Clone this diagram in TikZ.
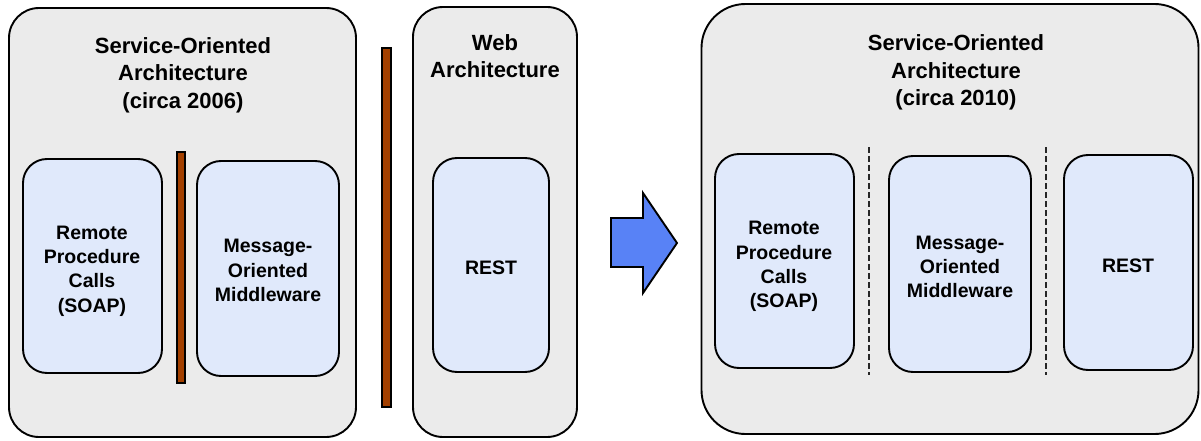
\documentclass[tikz,border=0pt]{standalone}
\usepackage{fontspec}
\setmainfont{Liberation Sans}
\definecolor{outerfill}{RGB}{235,235,235}
\definecolor{innerfill}{RGB}{224,233,251}
\definecolor{barfill}{RGB}{163,64,0}
\definecolor{arrowfill}{RGB}{88,130,246}
\tikzset{
  outerbox/.style={draw=black, line width=1.9pt, fill=outerfill, rounded corners=30pt, inner sep=0pt},
  innerbox/.style={draw=black, line width=1.9pt, fill=innerfill, rounded corners=24pt, inner sep=0pt},
  innertext/.style={align=center, inner sep=0pt, font=\fontsize{19.5}{24.3}\selectfont\bfseries},
  titletext/.style={align=center, inner sep=0pt, font=\fontsize{22}{27.5}\selectfont\bfseries},
  barbox/.style={draw=black, line width=1.4pt, fill=barfill, inner sep=0pt},
  sep/.style={draw=black!85, line width=2.2pt, dash pattern=on 6pt off 3pt},
  bigarrow/.style={draw=black, line width=1.9pt, fill=arrowfill, line join=miter}
}
\begin{document}
\begin{tikzpicture}[x=1pt,y=-1pt]
\useasboundingbox (0,0) rectangle (1201,441);
% left SOA box
\node[outerbox, minimum width=347pt, minimum height=429pt] (soa1) at (182.5,222.5) {};
\node[titletext] (soa1t) at (183,75) {Service-Oriented\\Architecture\\(circa 2006)};
\node[innerbox, minimum width=139pt, minimum height=214pt] (rpc1) at (92.5,266) {};
\node[innertext] (rpc1t) at (92,271) {Remote\\Procedure\\Calls\\(SOAP)};
\node[innerbox, minimum width=142pt, minimum height=215pt] (mom1) at (268,268.5) {};
\node[innertext] (mom1t) at (268,270.5) {Message-\\Oriented\\Middleware};
\node[barbox, minimum width=8pt, minimum height=231pt] (bar1) at (181,267.5) {};
% separator bar
\node[barbox, minimum width=9pt, minimum height=359pt] (bar2) at (386.5,227.5) {};
% web box
\node[outerbox, minimum width=164pt, minimum height=430pt] (web) at (495,222) {};
\node[titletext] (webt) at (495,56) {Web\\Architecture};
\node[innerbox, minimum width=116pt, minimum height=214pt] (rest1) at (491,265) {};
\node[innertext] (rest1t) at (491,268) {REST};
% arrow
\draw[bigarrow] (611,218) -- (643,218) -- (643,193) -- (677,243) -- (643,293) -- (643,267) -- (611,267) -- cycle;
% right SOA box
\node[outerbox, rounded corners=44pt, minimum width=497pt, minimum height=430pt] (soa2) at (950,219) {};
\node[titletext] (soa2t) at (956,72.5) {Service-Oriented\\Architecture\\(circa 2010)};
\node[innerbox, minimum width=139pt, minimum height=214pt] (rpc2) at (784.5,261) {};
\node[innertext] (rpc2t) at (784,266.5) {Remote\\Procedure\\Calls\\(SOAP)};
\node[innerbox, minimum width=142pt, minimum height=216pt] (mom2) at (960,264) {};
\node[innertext] (mom2t) at (960,267) {Message-\\Oriented\\Middleware};
\node[innerbox, minimum width=129pt, minimum height=215pt] (rest2) at (1128.5,262.5) {};
\node[innertext] (rest2t) at (1128,265.5) {REST};
\coordinate (d1a) at (869,147);
\coordinate (d1b) at (869,375);
\coordinate (d2a) at (1046,147);
\coordinate (d2b) at (1046,375);
\draw[sep] (d1a) -- (d1b);
\draw[sep] (d2a) -- (d2b);
\end{tikzpicture}
\end{document}
